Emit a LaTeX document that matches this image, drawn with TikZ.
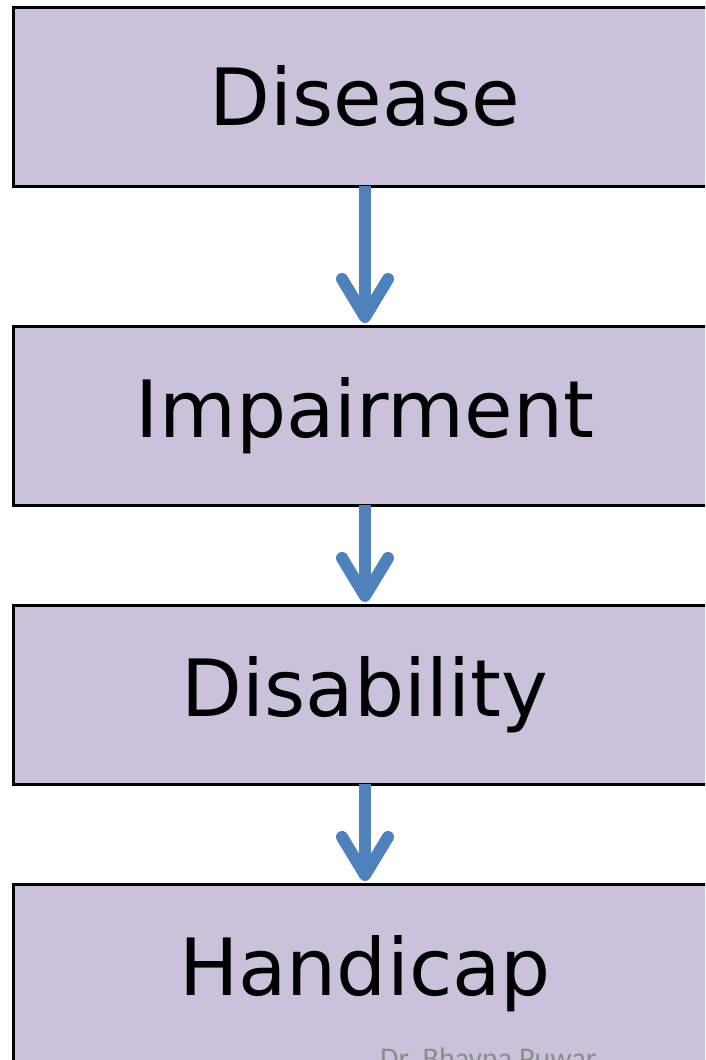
\documentclass[tikz,border=0pt]{standalone}
\usepackage{fontspec}
\setmainfont{DejaVu Sans}
\newfontfamily\wmfont{Carlito}
\usetikzlibrary{arrows.meta}
\definecolor{boxfill}{HTML}{CBC1DA}
\definecolor{arrowblue}{HTML}{4F81BD}
\definecolor{wmgray}{HTML}{8C8C8C}
\begin{document}
\begin{tikzpicture}[x=1pt,y=1pt,
  stagebox/.style={draw=black, line width=3pt, fill=boxfill, minimum width=697pt, minimum height=179pt, inner sep=0pt, font=\fontsize{79}{90}\selectfont, text=black},
  flowarrow/.style={draw=arrowblue, line width=12pt, -{Straight Barb[round, length=38pt, width=46pt]}, shorten >=2pt}
]
\useasboundingbox (0,0) rectangle (705,-1060);
\clip (0,0) rectangle (705,-1060);
\fill[white] (0,0) rectangle (705,-1060);
\node[stagebox] (disease) at (361.5,-96.5) {\hspace*{7pt}Disease};
\node[stagebox] (impair) at (361.5,-415.5) {\hspace*{7pt}Impairment};
\node[stagebox] (disab) at (361.5,-694.5) {\hspace*{7pt}Disability};
\node[stagebox] (handi) at (361.5,-973.5) {\hspace*{7pt}Handicap};
\node[anchor=base west, inner sep=0pt, text=wmgray, font=\wmfont\fontsize{30}{36}\selectfont] (wm) at (380,-1068) {Dr. Bhavna Puwar};
\coordinate (a1s) at (365,-186);
\coordinate (a1e) at (365,-325);
\coordinate (a2s) at (365,-505);
\coordinate (a2e) at (365,-604);
\coordinate (a3s) at (365,-784);
\coordinate (a3e) at (365,-883);
\draw[flowarrow] (a1s) -- (a1e);
\draw[flowarrow] (a2s) -- (a2e);
\draw[flowarrow] (a3s) -- (a3e);
\end{tikzpicture}
\end{document}
